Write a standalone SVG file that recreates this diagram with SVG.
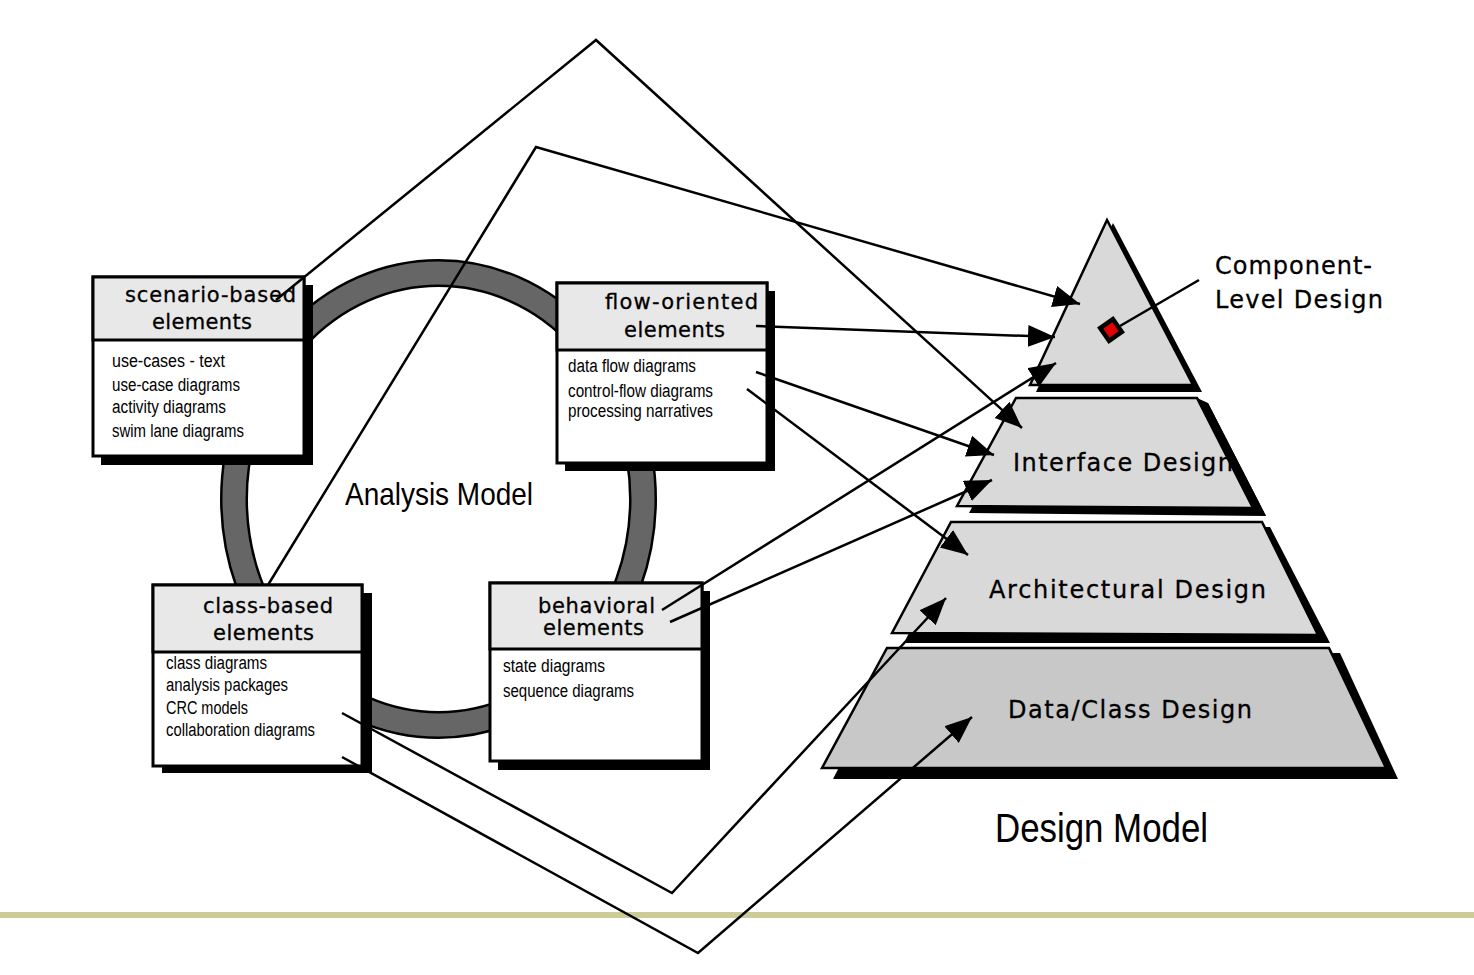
<svg xmlns="http://www.w3.org/2000/svg" width="1474" height="975" viewBox="0 0 1474 975">
<style>
.shadow{fill:#000}
.box{fill:#fff;stroke:#000;stroke-width:3}
.hdr{fill:#e8e8e8;stroke:#000;stroke-width:3}
.ht{font-family:"DejaVu Sans",sans-serif;font-size:21px;fill:#000;stroke:#000;stroke-width:0.3}
.bt{font-family:"Liberation Sans",Arial,sans-serif;font-size:18px;fill:#000}
.pt{font-family:"DejaVu Sans",sans-serif;font-size:24px;fill:#000;stroke:#000;stroke-width:0.3}
.lvl{fill:#d9d9d9;stroke:#000;stroke-width:2.5}
.lvl2{fill:#c8c8c8;stroke:#000;stroke-width:2.5}
.big{font-family:"Liberation Sans",Arial,sans-serif;fill:#000}
.con{fill:none;stroke:#000;stroke-width:2.5}
.arr{fill:none;stroke:#000;stroke-width:2.5;marker-end:url(#ah)}
</style>
<defs>
<marker id="ah" markerUnits="userSpaceOnUse" markerWidth="30" markerHeight="24" refX="27" refY="11" orient="auto"><path d="M0,0 L27,11 L0,22 z" fill="#000"/></marker>
</defs>
<rect x="0" y="0" width="1474" height="975" fill="#fff"/>
<rect x="0" y="912" width="1474" height="6" fill="#cccc99"/>

<g id="ring">
<ellipse cx="438.5" cy="499" rx="204.5" ry="226" fill="none" stroke="#000" stroke-width="28"/>
<ellipse cx="438.5" cy="499" rx="204.5" ry="226" fill="none" stroke="#666" stroke-width="23"/>
</g>

<g id="scenario">
<rect class="shadow" x="101" y="285" width="212" height="180"/>
<rect class="box" x="93" y="277" width="211" height="179"/>
<rect class="hdr" x="93" y="277" width="211" height="63"/>
<text class="ht" x="125" y="302" textLength="171" lengthAdjust="spacing">scenario-based</text>
<text class="ht" x="152" y="329" textLength="100" lengthAdjust="spacing">elements</text>
<text class="bt" x="112" y="367" textLength="113" lengthAdjust="spacingAndGlyphs">use-cases - text</text>
<text class="bt" x="112" y="391" textLength="128" lengthAdjust="spacingAndGlyphs">use-case diagrams</text>
<text class="bt" x="112" y="413" textLength="114" lengthAdjust="spacingAndGlyphs">activity diagrams</text>
<text class="bt" x="112" y="437" textLength="132" lengthAdjust="spacingAndGlyphs">swim lane diagrams</text>
</g>

<g id="flow">
<rect class="shadow" x="565" y="291" width="210" height="180"/>
<rect class="box" x="557" y="283" width="210" height="180"/>
<rect class="hdr" x="557" y="283" width="210" height="67"/>
<text class="ht" x="605" y="309" textLength="153" lengthAdjust="spacing">flow-oriented</text>
<text class="ht" x="624" y="337" textLength="101" lengthAdjust="spacing">elements</text>
<text class="bt" x="568" y="372" textLength="128" lengthAdjust="spacingAndGlyphs">data flow diagrams</text>
<text class="bt" x="568" y="397" textLength="145" lengthAdjust="spacingAndGlyphs">control-flow diagrams</text>
<text class="bt" x="568" y="417" textLength="145" lengthAdjust="spacingAndGlyphs">processing narratives</text>
</g>

<g id="class">
<rect class="shadow" x="162" y="593" width="210" height="180"/>
<rect class="box" x="153" y="585" width="209" height="181"/>
<rect class="hdr" x="153" y="585" width="209" height="67"/>
<text class="ht" x="203" y="613" textLength="130" lengthAdjust="spacing">class-based</text>
<text class="ht" x="213" y="640" textLength="101" lengthAdjust="spacing">elements</text>
<text class="bt" x="166" y="669" textLength="101" lengthAdjust="spacingAndGlyphs">class diagrams</text>
<text class="bt" x="166" y="691" textLength="122" lengthAdjust="spacingAndGlyphs">analysis packages</text>
<text class="bt" x="166" y="714" textLength="82" lengthAdjust="spacingAndGlyphs">CRC models</text>
<text class="bt" x="166" y="736" textLength="149" lengthAdjust="spacingAndGlyphs">collaboration diagrams</text>
</g>

<g id="behavioral">
<rect class="shadow" x="498" y="591" width="212" height="179"/>
<rect class="box" x="490" y="583" width="212" height="178"/>
<rect class="hdr" x="490" y="583" width="212" height="66"/>
<text class="ht" x="538" y="613" textLength="117" lengthAdjust="spacing">behavioral</text>
<text class="ht" x="543" y="635" textLength="101" lengthAdjust="spacing">elements</text>
<text class="bt" x="503" y="672" textLength="102" lengthAdjust="spacingAndGlyphs">state diagrams</text>
<text class="bt" x="503" y="697" textLength="131" lengthAdjust="spacingAndGlyphs">sequence diagrams</text>
</g>

<text id="analysis-model" class="big" x="345" y="505" font-size="32" textLength="188" lengthAdjust="spacingAndGlyphs">Analysis Model</text>

<g id="component-level">
<polygon class="shadow" points="1113,223 1202,392 1036,392"/>
<polygon class="lvl" points="1107,220 1193,385 1030,385"/>
</g>
<g id="interface-design">
<polygon class="shadow" points="1027,403 1208,403 1266,516 969,513"/>
<polygon class="lvl" points="1016,398 1197,398 1253,508 957,506"/>
<text class="pt" x="1013" y="471" textLength="220" lengthAdjust="spacing">Interface Design</text>
<polygon class="shadow" points="1197,398 1208,403 1266,516 1253,508" />
</g>
<g id="architectural-design">
<polygon class="shadow" points="962,527 1270,527 1330,643 904,643"/>
<polygon class="lvl" points="951,522 1262,522 1318,635 892,633"/>
<text class="pt" x="989" y="598" textLength="277" lengthAdjust="spacing">Architectural Design</text>
</g>
<g id="data-class-design">
<polygon class="shadow" points="898,653 1340,653 1398,779 833,779"/>
<polygon class="lvl2" points="887,648 1329,648 1386,768 822,768"/>
<text class="pt" x="1008" y="718" textLength="244" lengthAdjust="spacing">Data/Class Design</text>
</g>

<g id="component-label">
<text class="pt" x="1215" y="274" font-size="23" textLength="157" lengthAdjust="spacing">Component-</text>
<text class="pt" x="1215" y="308" font-size="23" textLength="168" lengthAdjust="spacing">Level Design</text>
</g>

<text id="design-model" class="big" x="995" y="842" font-size="40" textLength="213" lengthAdjust="spacingAndGlyphs">Design Model</text>

<g id="connectors">
<polyline class="arr" points="276,300 596,40 1022,428"/>
<polyline class="arr" points="268,585 536,147 1080,304"/>
<polyline class="arr" points="342,713 672,893 946,598"/>
<polyline class="arr" points="342,757 698,953 972,717"/>
<line class="arr" x1="756" y1="326" x2="1055" y2="337"/>
<line class="arr" x1="756" y1="372" x2="994" y2="455"/>
<line class="arr" x1="747" y1="389" x2="968" y2="555"/>
<line class="arr" x1="662" y1="610" x2="1056" y2="363"/>
<line class="arr" x1="670" y1="622" x2="992" y2="480"/>
<line class="con" x1="1120" y1="326" x2="1199" y2="280"/>
</g>

<g id="component-marker" transform="translate(1111,330) rotate(-35)">
<rect x="-10" y="-10" width="20" height="20" fill="#000"/>
<rect x="-5.5" y="-5.5" width="11" height="11" fill="#e00000"/>
</g>
</svg>
